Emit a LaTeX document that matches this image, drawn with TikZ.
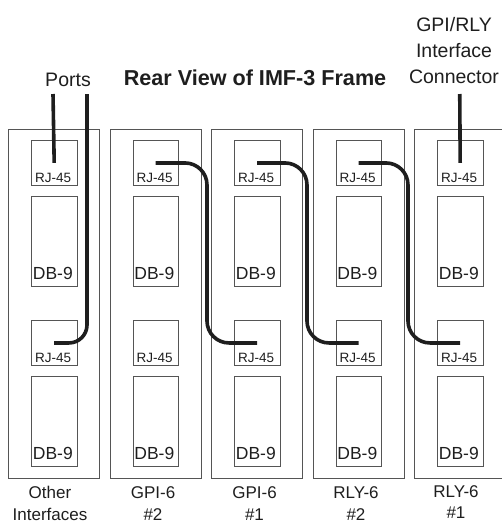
\documentclass[tikz,border=0pt]{standalone}
\usepackage{fontspec}
\setmainfont{Liberation Sans}
\usetikzlibrary{positioning}
\definecolor{FrameGray}{RGB}{85,85,85}
\definecolor{InkDark}{RGB}{30,30,30}

\begin{document}
\begin{tikzpicture}[x=1pt,y=-1pt,
  frame/.style={draw=FrameGray,line width=0.9pt,minimum width=91pt,minimum height=349pt,inner sep=0pt,anchor=north west},
  rjbox/.style={draw=FrameGray,line width=0.9pt,minimum width=45.5pt,minimum height=45pt,inner sep=0pt,anchor=north west},
  dbbox/.style={rjbox,minimum height=90pt},
  rjtext/.style={inner sep=0pt,anchor=base,text=InkDark,font=\fontsize{13.5}{16}\selectfont},
  dbtext/.style={inner sep=0pt,anchor=base west,text=InkDark,font=\fontsize{17.5}{20}\selectfont},
  cardname/.style={inner sep=0pt,anchor=base,align=center,text=InkDark,font=\fontsize{17}{21.4}\selectfont},
  callout/.style={inner sep=0pt,anchor=base,align=center,text=InkDark,font=\fontsize{19.5}{26}\selectfont},
  cable/.style={line width=3.6pt,draw=InkDark,rounded corners=22pt}]
  \useasboundingbox (0,0) rectangle (502,523);

  % frame slots, one per card
  \foreach \i/\fx in {1/8,2/109.5,3/211,4/312.5,5/414} {
    \node[frame] (frame\i) at (\fx,129) {};
    \node[rjbox] (rjtop\i) at (\fx+23,140) {};
    \node[dbbox] (dbtop\i) at (\fx+23,196) {};
    \node[rjbox] (rjbot\i) at (\fx+23,320) {};
    \node[dbbox] (dbbot\i) at (\fx+23,376) {};
    \node[rjtext] (rjtoplbl\i) at ([xshift=-1pt,yshift=3.3pt]rjtop\i.south) {RJ-45};
    \node[rjtext] (rjbotlbl\i) at ([xshift=-1pt,yshift=3.3pt]rjbot\i.south) {RJ-45};
    \node[dbtext] (dbtoplbl\i) at ([xshift=1.7pt,yshift=7.7pt]dbtop\i.south west) {DB-9};
    \node[dbtext] (dbbotlbl\i) at ([xshift=1.7pt,yshift=7.7pt]dbbot\i.south west) {DB-9};
  }

  % card names under the frame (base = last line)
  \node[cardname] (name1) at (50,520) {Other\\Interfaces};
  \node[cardname] (name2) at (153,520) {GPI-6\\\#2};
  \node[cardname] (name3) at (254.5,520) {GPI-6\\\#1};
  \node[cardname] (name4) at (356,520) {RLY-6\\\#2};
  \node[cardname] (name5) at (456,518.5) {RLY-6\\\#1};

  % headings
  \node[callout,font=\bfseries\fontsize{21.6}{24}\selectfont] (title) at (255,85) {Rear View of IMF-3 Frame};
  \node[callout] (ports) at (68,86.7) {Ports};
  \node[callout] (gpirly) at (454,83) {GPI/RLY\\Interface\\Connector};

  % cables
  \coordinate (portA) at (53,94);
  \coordinate (portB) at (87,94);
  \coordinate (gpitop) at (459.75,94);
  \coordinate (gap2) at (207,0);
  \coordinate (gap3) at (307,0);
  \coordinate (gap4) at (408,0);
  \draw[cable] (portA) -- (rjtop1.center);
  \draw[cable,rounded corners=18pt] (portB) -- (portB |- rjbot1.center) -- (rjbot1.center);
  \draw[cable] (gpitop) -- (rjtop5.center);
  \draw[cable] (rjtop2.center) -- (rjtop2.center -| gap2) -- (rjbot3.center -| gap2) -- (rjbot3.center);
  \draw[cable] (rjtop3.center) -- (rjtop3.center -| gap3) -- (rjbot4.center -| gap3) -- (rjbot4.center);
  \draw[cable] (rjtop4.center) -- (rjtop4.center -| gap4) -- (rjbot5.center -| gap4) -- (rjbot5.center);
\end{tikzpicture}
\end{document}
